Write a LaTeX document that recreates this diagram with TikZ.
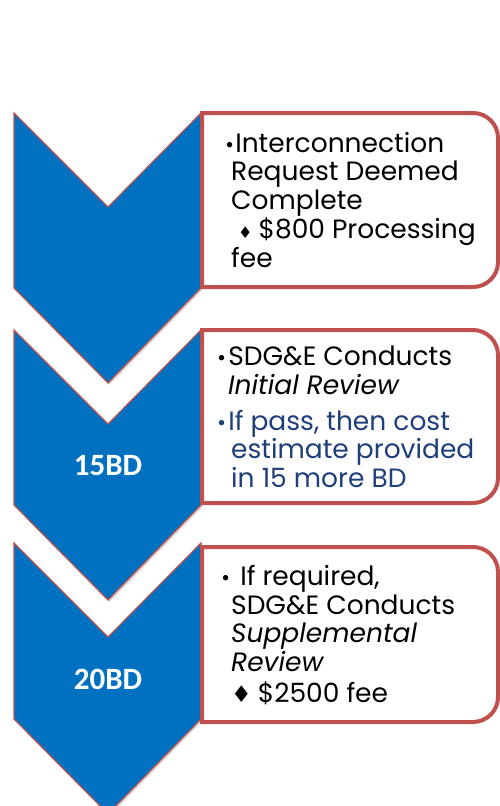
\documentclass[tikz,border=0pt]{standalone}
\usepackage{fontspec}
\setmainfont{Poppins}
\newfontfamily\symfont{DejaVu Sans}
\newfontfamily\calfont{Carlito}
\usetikzlibrary{shadows}
\definecolor{chevblue}{HTML}{0070C0}
\definecolor{boxred}{HTML}{C0504D}
\definecolor{navytext}{HTML}{1F3F7A}
\tikzset{
  chev/.style={fill=chevblue, draw=boxred, line width=1.2pt, line join=miter,
    drop shadow={shadow xshift=1.5pt, shadow yshift=-2pt, opacity=0.25, fill=black!60}},
  rbox/.style={fill=white, draw=boxred, line width=4pt, line join=miter},
  ln/.style={anchor=base west, inner sep=0pt, font=\fontsize{26.5}{29}\selectfont, text=black},
  bd/.style={text=white, inner sep=0pt, font=\calfont\bfseries\fontsize{31}{34}\selectfont}
}
\newcommand{\bul}[1]{{\fontsize{22}{22}\selectfont•}\hspace{#1}}
\begin{document}
\begin{tikzpicture}[x=1pt,y={(0pt,-1pt)}]
\useasboundingbox (0,0) rectangle (500,806);
% chevrons
\path[chev] (14,113) -- (108,207) -- (201,113) -- (201,288) -- (108,383) -- (14,288) -- cycle;
\path[chev] (14,330) -- (108,424) -- (201,330) -- (201,505) -- (108,600) -- (14,505) -- cycle;
\path[chev] (14,543) -- (108,637) -- (201,543) -- (201,719) -- (108,814) -- (14,719) -- cycle;
\node[bd] (c2) at (108,466) {15BD};
\node[bd] (c3) at (108,679) {20BD};
% boxes
\draw[rbox] (202,113) -- (473,113) .. controls (486.8,113) and (498,124.2) .. (498,138)
  -- (498,262) .. controls (498,275.8) and (486.8,287) .. (473,287) -- (202,287) -- cycle;
\draw[rbox] (202,330) -- (473,330) .. controls (486.8,330) and (498,341.2) .. (498,355)
  -- (498,478) .. controls (498,491.8) and (486.8,503) .. (473,503) -- (202,503) -- cycle;
\draw[rbox] (202,547) -- (473,547) .. controls (486.8,547) and (498,558.2) .. (498,572)
  -- (498,697) .. controls (498,710.8) and (486.8,722) .. (473,722) -- (202,722) -- cycle;
% box 1 text
\node[ln] (a1) at (225,152) {\bul{1pt}Interconnection};
\node[ln] (a2) at (231,180) {Request Deemed};
\node[ln] (a3) at (231,209) {Complete};
\node[ln] (a4) at (238,238) {{\symfont\fontsize{16}{16}\selectfont ♦}\hspace{6pt}\$800 Processing};
\node[ln] (a5) at (231,267) {fee};
% box 2 text
\node[ln] (b1) at (217,365) {\bul{2pt}SDG\&E Conducts};
\node[ln] (b2) at (228,394) {\itshape Initial Review};
\node[ln, text=navytext] (b3) at (217,430) {\bul{2pt}If pass, then cost};
\node[ln, text=navytext] (b4) at (231,458) {estimate provided};
\node[ln, text=navytext] (b5) at (231,487) {in 15 more BD};
% box 3 text
\node[ln] (d1) at (221,585) {\bul{10pt}If required,};
\node[ln] (d2) at (231,614) {SDG\&E Conducts};
\node[ln] (d3) at (231,642) {\itshape Supplemental};
\node[ln] (d4) at (231,671) {\itshape Review};
\node[ln] (d5) at (231,702) {{\symfont\fontsize{23}{23}\selectfont ♦}\hspace{6pt}\$2500 fee};
\end{tikzpicture}
\end{document}
